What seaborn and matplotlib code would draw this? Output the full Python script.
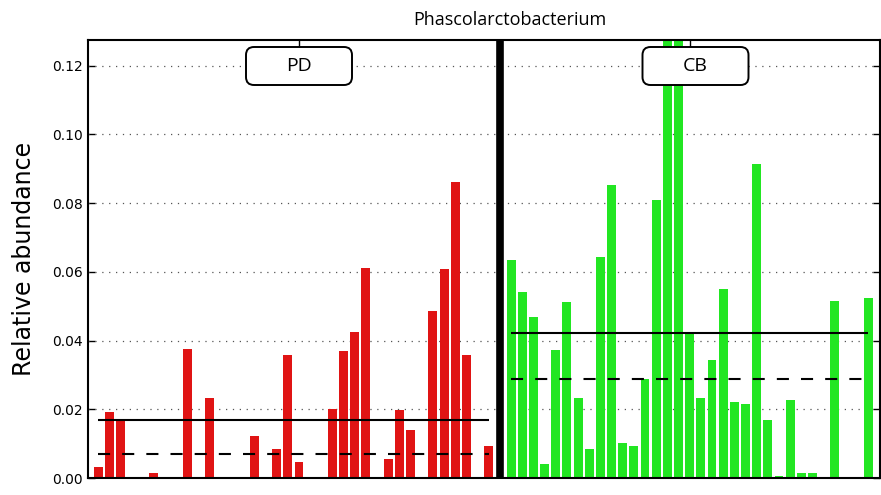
import numpy as np
import pandas as pd
import matplotlib
matplotlib.use("Agg")
import matplotlib.pyplot as plt
import seaborn as sns
from matplotlib.patches import FancyBboxPatch

# ---- data ----
groups = ["PD", "CB"]
pd_values = [0.0033, 0.0192, 0.0167, 0, 0, 0.0014, 0, 0, 0.0376, 0, 0.0234, 0, 0, 0,
             0.0122, 0, 0.0083, 0.0357, 0.0046, 0, 0, 0.0202, 0.0371, 0.0426, 0.0611, 0,
             0.0054, 0.0198, 0.0139, 0, 0.0487, 0.0608, 0.0862, 0.0358, 0, 0.0094]
cb_values = [0.0634, 0.0542, 0.0468, 0.0040, 0.0373, 0.0512, 0.0234, 0.0083, 0.0644,
             0.0853, 0.0103, 0.0093, 0.0288, 0.0809, 0.2050, 0.1860, 0.0423, 0.0234,
             0.0344, 0.0549, 0.0220, 0.0215, 0.0914, 0.0169, 0.0005, 0.0227, 0.0015,
             0.0016, 0, 0.0515, 0, 0, 0.0523]
y_ticks = [0.00, 0.02, 0.04, 0.06, 0.08, 0.10, 0.12]
title = "Phascolarctobacterium"
y_label = "Relative abundance"
colors = {"PD": "#e01414", "CB": "#22e622"}

pd_pos = np.arange(len(pd_values))
sep_pos = len(pd_values)
cb_pos = np.arange(len(cb_values)) + sep_pos + 1
df = pd.concat([
    pd.DataFrame({"pos": pd_pos, "value": pd_values, "group": "PD"}),
    pd.DataFrame({"pos": cb_pos, "value": cb_values, "group": "CB"}),
], ignore_index=True)

sns.set_style("white")
plt.rcParams["font.family"] = ["DejaVu Sans"]
plt.rcParams["text.color"] = "black"
plt.rcParams["axes.labelcolor"] = "black"
plt.rcParams["ytick.color"] = "black"
plt.rcParams["xtick.color"] = "black"

fig = plt.figure(figsize=(8.81, 4.95), dpi=100)
ax = fig.add_axes([88 / 881, 17 / 495, 792 / 881, 438 / 495])

for g in groups:
    sub = df[df["group"] == g]
    sns.barplot(data=sub, x="pos", y="value", color=colors[g], native_scale=True,
                width=0.8, errorbar=None, saturation=1, linewidth=0, ax=ax, zorder=2)

# gridlines
for t in y_ticks[1:]:
    ax.axhline(t, color="#555555", lw=0.9, linestyle=(0, (1, 4.5)), zorder=1)

# mean / median lines
for g, pos in (("PD", pd_pos), ("CB", cb_pos)):
    vals = np.array(df[df["group"] == g]["value"])
    ax.hlines(np.mean(vals), pos[0], pos[-1], color="black", lw=1.5, zorder=3)
    ax.hlines(np.median(vals), pos[0], pos[-1], color="black", lw=1.5,
              linestyle=(0, (5.8, 5.8)), zorder=3)

# separator
ax.axvline(sep_pos, color="black", lw=5.5, zorder=4)

ax.set_xlim(-0.9, cb_pos[-1] + 1.05)
ax.set_ylim(0, 0.1275)
ax.set_yticks(y_ticks)
ax.set_yticklabels([f"{t:.2f}" for t in y_ticks], fontsize=10)
ax.set_xticks([(pd_pos[0] + sep_pos) / 2, (cb_pos[0] + cb_pos[-1]) / 2])
ax.set_xticklabels([])
ax.tick_params(axis="both", direction="in", length=5, width=1, color="black",
               labelcolor="black", top=True, right=True, bottom=True, left=True, pad=4)
ax.set_xlabel("")
ax.set_ylabel(y_label, fontsize=17, labelpad=11, color="black")
for s in ax.spines.values():
    s.set_visible(True)
    s.set_color("black")
    s.set_linewidth(1.5)

# group label boxes (in inches)
fig_h = 4.95
for g, cx in (("PD", 2.99), ("CB", 6.955)):
    w, h = 1.06, 0.38
    y0 = fig_h - 0.85
    box = FancyBboxPatch((cx - w / 2, y0), w, h,
                         boxstyle="round,pad=0,rounding_size=0.08",
                         transform=fig.dpi_scale_trans, facecolor="white",
                         edgecolor="black", lw=1.4, zorder=10)
    fig.patches.append(box)
    fig.text(cx / 8.81, (y0 + h / 2) / fig_h, g, ha="center", va="center",
             fontsize=14, family=["Open Sans", "DejaVu Sans"], zorder=11)

fig.text(510 / 881, 1 - 20 / 495, title, ha="center", va="center", fontsize=13,
         family=["Open Sans", "DejaVu Sans"])

fig.savefig("out.png", dpi=100)
